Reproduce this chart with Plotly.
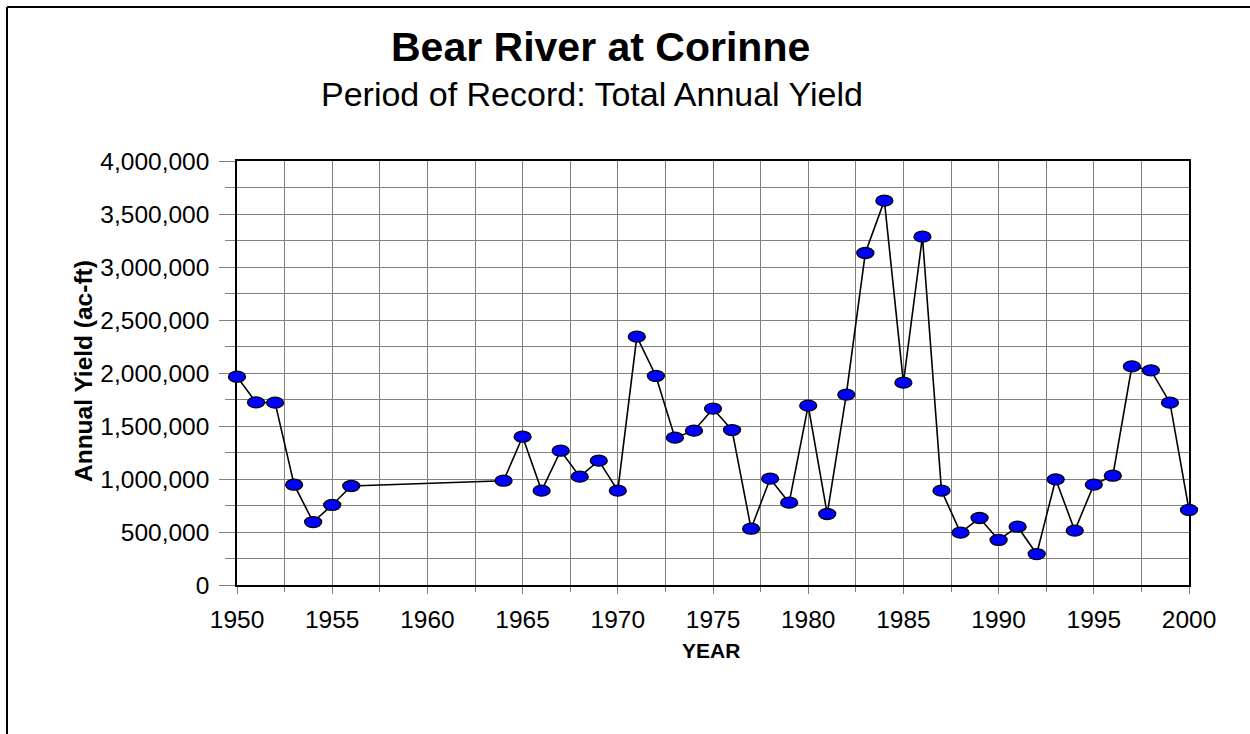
import plotly.graph_objects as go

years = [1950, 1951, 1952, 1953, 1954, 1955, 1956,
         1964, 1965, 1966, 1967, 1968, 1969, 1970,
         1971, 1972, 1973, 1974, 1975, 1976, 1977, 1978, 1979, 1980,
         1981, 1982, 1983, 1984, 1985, 1986, 1987, 1988, 1989, 1990,
         1991, 1992, 1993, 1994, 1995, 1996, 1997, 1998, 1999, 2000]
yield_acft = [1965000, 1723000, 1720000, 946000, 594000, 755000, 934000,
              984000, 1399000, 890000, 1267000, 1022000, 1173000, 890000,
              2343000, 1972000, 1390000, 1456000, 1664000, 1462000, 531000, 1003000, 777000, 1692000,
              670000, 1796000, 3132000, 3626000, 1909000, 3286000, 890000, 494000, 632000, 425000,
              550000, 292000, 997000, 513000, 947000, 1031000, 2063000, 2025000, 1720000, 708000]

x_range = [1950, 2000]
y_range = [0, 4000000]
x_ticks = [1950, 1955, 1960, 1965, 1970, 1975, 1980, 1985, 1990, 1995, 2000]

title_text = "<b>Bear River at Corinne</b>"
subtitle_text = "Period of Record: Total Annual Yield"
x_title = "<b>YEAR</b>"
y_title = "<b>Annual Yield (ac-ft)</b>"

W, H = 1250, 734
# plot area in pixels
PL, PR, PT, PB = 237, 1189, 161, 585
PAD = 14  # extra room so end markers are not clipped
ml, mr, mt, mb = PL - PAD, W - (PR + PAD), PT - PAD, H - (PB + PAD)
pw, ph = W - ml - mr, H - mt - mb


def px_x(px):
    return (px - ml) / pw


def px_y(py):
    return (H - mb - py) / ph


FONT = "Liberation Sans, Arial, sans-serif"
GRID = "#808080"
TICK_SIZE = 24.5

xd = [px_x(PL), px_x(PR)]
yd = [px_y(PB), px_y(PT)]
xs = (x_range[1] - x_range[0]) / (xd[1] - xd[0])
ys = (y_range[1] - y_range[0]) / (yd[1] - yd[0])
x2_range = [x_range[0] - xd[0] * xs, x_range[1] + (1 - xd[1]) * xs]
y2_range = [y_range[0] - yd[0] * ys, y_range[1] + (1 - yd[1]) * ys]

fig = go.Figure()
fig.add_trace(go.Scatter(x=years, y=yield_acft, mode="lines",
                         line=dict(color="black", width=1.6),
                         xaxis="x", yaxis="y", cliponaxis=False,
                         hoverinfo="x+y", showlegend=False))
fig.add_trace(go.Scatter(x=years, y=yield_acft, mode="markers",
                         marker=dict(opacity=0, size=1),
                         xaxis="x2", yaxis="y2", hoverinfo="skip",
                         showlegend=False))

shapes = []
for yr, v in zip(years, yield_acft):
    shapes.append(dict(type="circle", xref="x2", yref="y2",
                       xsizemode="pixel", ysizemode="pixel",
                       xanchor=yr, yanchor=v,
                       x0=-8.5, x1=8.5, y0=-5.5, y1=5.5,
                       fillcolor="#0000FF",
                       line=dict(color="black", width=1.3),
                       layer="above"))
# outer frame lines (top and left)
shapes.append(dict(type="line", xref="paper", yref="paper",
                   x0=px_x(7), x1=px_x(W + 5), y0=px_y(7), y1=px_y(7),
                   line=dict(color="black", width=2)))
shapes.append(dict(type="line", xref="paper", yref="paper",
                   x0=px_x(7), x1=px_x(7), y0=px_y(7), y1=px_y(H + 5),
                   line=dict(color="black", width=2)))

annotations = [
    dict(text=title_text, xref="paper", yref="paper", x=px_x(600), y=px_y(47),
         xanchor="center", yanchor="middle", showarrow=False,
         font=dict(family=FONT, size=41, color="black")),
    dict(text=subtitle_text, xref="paper", yref="paper", x=px_x(592), y=px_y(94),
         xanchor="center", yanchor="middle", showarrow=False,
         font=dict(family=FONT, size=34, color="black")),
    dict(text=x_title, xref="paper", yref="paper", x=px_x(711), y=px_y(650),
         xanchor="center", yanchor="middle", showarrow=False,
         font=dict(family=FONT, size=21, color="black")),
    dict(text=y_title, xref="paper", yref="paper", x=px_x(83), y=px_y(371),
         xanchor="center", yanchor="middle", showarrow=False, textangle=-90,
         font=dict(family=FONT, size=24.5, color="black")),
]

fig.update_layout(
    width=W, height=H,
    margin=dict(l=ml, r=mr, t=mt, b=mb, pad=0),
    paper_bgcolor="white", plot_bgcolor="rgba(0,0,0,0)",
    font=dict(family=FONT, size=TICK_SIZE, color="black"),
    showlegend=False,
    shapes=shapes,
    annotations=annotations,
    xaxis=dict(domain=xd, range=x_range, tickmode="array", tickvals=x_ticks,
               ticks="outside", ticklen=7, tickcolor=GRID, tickwidth=1,
               showgrid=True, gridcolor=GRID, gridwidth=1,
               showline=True, linecolor="black", linewidth=1.5, mirror=True,
               zeroline=False, tickfont=dict(size=TICK_SIZE), ticklabelstandoff=5,
               minor=dict(dtick=2.5, tick0=1950, ticks="outside", ticklen=5,
                          tickcolor=GRID, showgrid=True, gridcolor=GRID,
                          gridwidth=1),
               anchor="y", fixedrange=True),
    yaxis=dict(domain=yd, range=y_range, dtick=500000, tickformat=",d",
               ticks="outside", ticklen=16, tickcolor=GRID, tickwidth=1,
               showgrid=True, gridcolor=GRID, gridwidth=1,
               showline=True, linecolor="black", linewidth=1.5, mirror=True,
               zeroline=False, tickfont=dict(size=TICK_SIZE), ticklabelstandoff=5,
               minor=dict(dtick=250000, ticks="outside", ticklen=10,
                          tickcolor=GRID, showgrid=True, gridcolor=GRID,
                          gridwidth=1),
               anchor="x", fixedrange=True),
    xaxis2=dict(domain=[0, 1], range=x2_range, visible=False, anchor="y2",
                fixedrange=True),
    yaxis2=dict(domain=[0, 1], range=y2_range, visible=False, anchor="x2",
                fixedrange=True),
)

fig.write_html("out.html", config={"displayModeBar": False},
               post_script="document.body.style.margin='0px';document.body.style.overflow='hidden';")
